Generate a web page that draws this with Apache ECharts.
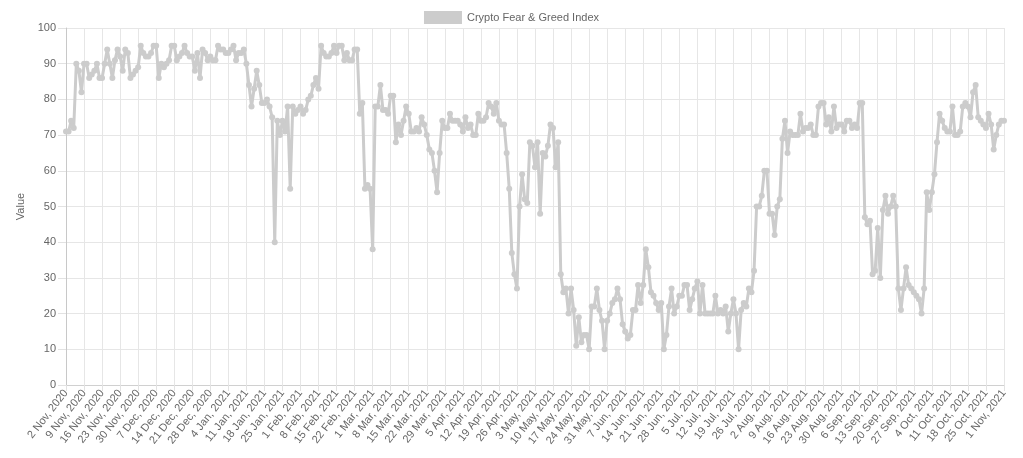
<!DOCTYPE html>
<html>
<head>
<meta charset="utf-8">
<script src="https://cdn.jsdelivr.net/npm/echarts@6/dist/echarts.min.js"></script>
<style>
html,body{margin:0;padding:0;background:#fff;}
#chart{width:1023px;height:458px;}
</style>
</head>
<body>
<div id="chart"></div>
<script>
// Daily Crypto Fear & Greed Index, 2 Nov 2020 .. 1 Nov 2021
const startDate = [2020, 10, 2]; // year, monthIndex, day
const monthNames = ["Jan","Feb","Mar","Apr","May","Jun","Jul","Aug","Sep","Oct","Nov","Dec"];
const seriesName = "Crypto Fear & Greed Index";
const yAxisName = "Value";
const values = [
71,71,74,72,90,88,82,90,90,86,
87,88,90,86,86,90,94,90,86,91,
94,92,88,94,93,86,87,88,89,95,
93,92,92,93,95,95,86,90,89,90,
91,95,95,91,92,93,95,93,92,92,
88,93,86,94,93,91,92,91,91,95,
94,94,93,93,94,95,91,93,93,94,
90,84,78,83,88,84,79,79,80,78,
75,40,74,70,74,71,78,55,78,76,
77,78,76,77,80,81,84,86,83,95,
93,92,92,93,95,93,95,95,91,93,
91,91,94,94,76,79,55,56,55,38,
78,78,84,77,77,76,81,81,68,73,
70,74,78,76,71,71,72,71,75,73,
70,66,65,60,54,65,74,72,72,76,
74,74,74,73,71,75,72,73,70,70,
76,74,74,75,79,78,76,79,74,73,
73,65,55,37,31,27,50,59,52,51,
68,67,61,68,48,65,64,67,73,72,
61,68,31,26,27,20,27,21,11,19,
12,14,14,10,22,22,27,21,18,10,
18,20,23,24,27,24,17,15,13,14,
21,21,28,23,28,38,33,26,25,23,
21,23,10,14,22,27,20,22,25,25,
28,28,21,24,27,29,20,28,20,20,
20,20,25,20,21,20,22,15,20,24,
20,10,21,23,22,27,26,32,50,50,
53,60,60,48,48,42,50,52,69,74,
65,71,70,70,70,76,71,72,72,73,
70,70,78,79,79,73,75,71,78,72,
73,73,71,74,74,72,73,72,79,79,
47,45,46,31,32,44,30,49,53,48,
50,53,50,27,21,27,33,28,27,26,
25,24,20,27,54,49,54,59,68,76,
74,72,71,71,78,70,70,71,78,79,
78,75,82,84,75,74,73,72,76,73,
66,70,73,74,74
];

// category labels: one per day
const categories = values.map((v, i) => {
  const d = new Date(startDate[0], startDate[1], startDate[2] + i);
  return d.getDate() + " " + monthNames[d.getMonth()] + ", " + d.getFullYear();
});

const FONT = "'Liberation Sans', Arial, Helvetica, sans-serif";
const FS = 11;
const chart = echarts.init(document.getElementById('chart'), null, {renderer: 'canvas'});
chart.setOption({
  animation: false,
  backgroundColor: '#ffffff',
  textStyle: {fontFamily: FONT},
  legend: {
    top: 6,
    left: 'center',
    icon: 'rect',
    itemWidth: 38,
    itemHeight: 13,
    itemGap: 10,
    textStyle: {color: '#666', fontSize: FS, fontFamily: FONT},
    data: [seriesName]
  },
  grid: {left: 66, right: 19, top: 28, bottom: 73, containLabel: false},
  xAxis: {
    type: 'category',
    data: categories,
    boundaryGap: false,
    axisLine: {show: true, lineStyle: {color: '#d0d0d0', width: 1}},
    axisTick: {show: true, interval: 6, length: 6, lineStyle: {color: '#e2e2e2'}},
    axisLabel: {interval: 6, rotate: 52, color: '#666', fontSize: FS, fontFamily: FONT, margin: 6},
    splitLine: {show: true, interval: 6, lineStyle: {color: '#e6e6e6', width: 1}}
  },
  yAxis: {
    type: 'value',
    min: 0,
    max: 100,
    interval: 10,
    name: yAxisName,
    nameLocation: 'middle',
    nameGap: 35,
    nameRotate: 90,
    nameTextStyle: {color: '#666', fontSize: FS, fontFamily: FONT},
    axisLine: {show: true, lineStyle: {color: '#c8c8c8', width: 1}},
    axisTick: {show: true, length: 8, lineStyle: {color: '#e2e2e2'}},
    axisLabel: {color: '#666', fontSize: FS, fontFamily: FONT, margin: 10},
    splitLine: {show: true, lineStyle: {color: '#e6e6e6', width: 1}}
  },
  series: [{
    name: seriesName,
    type: 'line',
    data: values,
    color: '#cccccc',
    lineStyle: {color: '#cccccc', width: 3},
    itemStyle: {color: '#cccccc'},
    symbol: 'circle',
    symbolSize: 6,
    showSymbol: true,
    showAllSymbol: true,
    smooth: false
  }]
});
</script>
</body>
</html>
